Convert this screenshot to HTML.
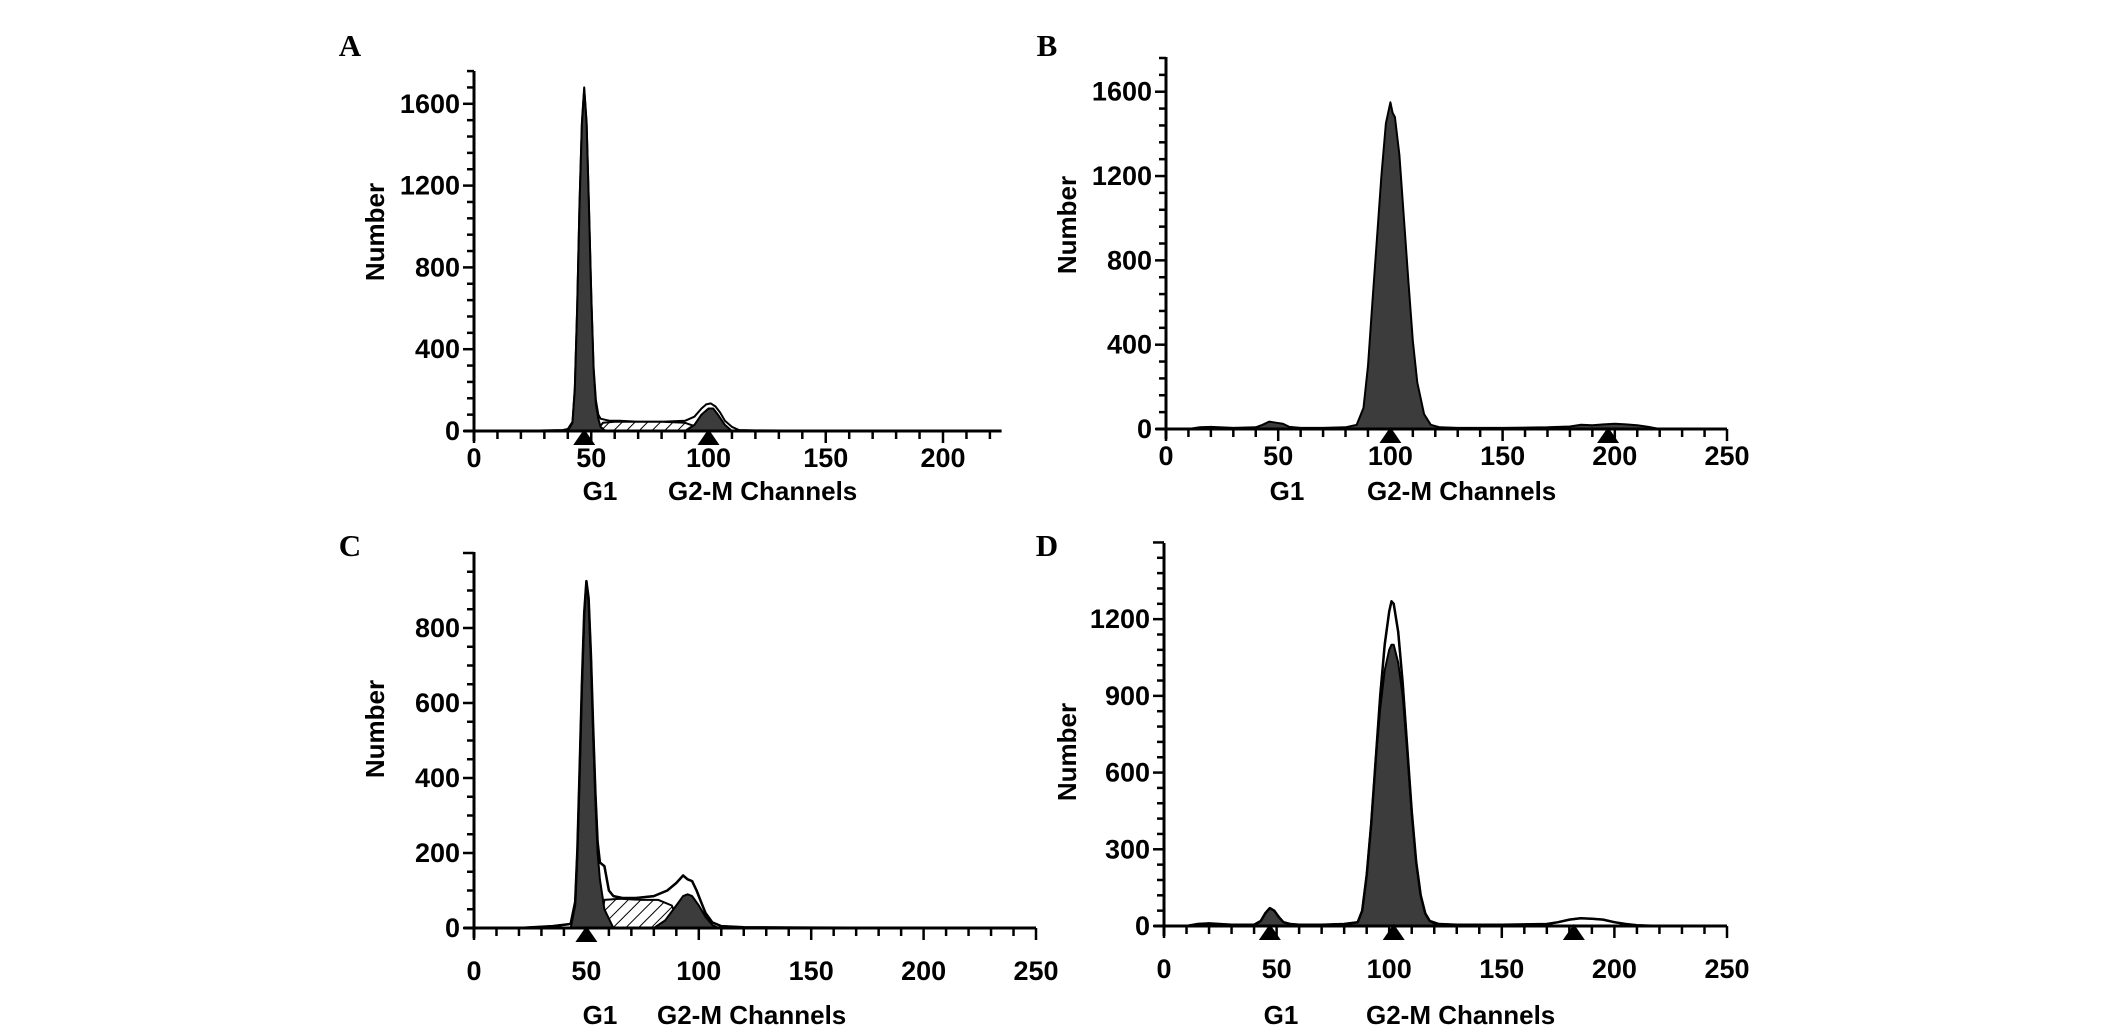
<!DOCTYPE html>
<html><head><meta charset="utf-8"><style>
html,body{margin:0;padding:0;background:#fff;}
svg{display:block;}
text{font-family:"Liberation Sans",Arial,sans-serif;font-weight:bold;fill:#000;}
.pl{font-family:"Liberation Serif","Times New Roman",serif;font-size:31px;}
</style></head><body>
<svg id="fig" width="2126" height="1032" viewBox="0 0 2126 1032" xmlns="http://www.w3.org/2000/svg">
<defs>
<pattern id="hatch" patternUnits="userSpaceOnUse" width="9" height="9" patternTransform="rotate(45)">
<rect width="9" height="9" fill="#fff"/><line x1="0" y1="0" x2="0" y2="9" stroke="#000" stroke-width="2"/>
</pattern>
</defs>
</svg>
<script>
// ---------- data ----------
const aTotalX=[20,30,38,40,42,43,44,45,46,47,48,49,50,51,52,53,54,56,58,62,70,80,90,94,97,99,101,103,105,107,110,113,120,140,160];
const aTotalY=[0,3,5,10,45,210,610,1110,1510,1680,1510,1110,660,310,150,80,60,55,50,50,45,45,50,70,110,130,135,120,90,50,20,5,3,2,0];
const aG1X=[40,42,43,44,45,46,47,48,49,50,51,52,53,54,56];
const aG1Y=[0,40,200,600,1100,1500,1670,1500,1100,650,300,130,60,20,0];
const aSX=[52,55,60,70,80,90,95,98];
const aSY=[0,40,45,45,45,40,20,0];
const aG2X=[90,94,97,100,102,104,107,110];
const aG2Y=[0,30,80,110,110,80,30,0];
const aMarks=[47,100];

const bTotalX=[10,15,20,30,40,43,46,49,52,55,60,70,80,85,88,90,92,94,96,98,100,101,102,104,106,108,110,112,115,118,122,130,150,170,180,185,190,195,200,205,210,215,220];
const bTotalY=[0,8,10,5,8,20,35,30,25,10,5,5,8,20,100,300,600,900,1200,1450,1550,1500,1480,1300,1000,700,420,220,70,20,8,5,5,8,12,20,18,22,25,22,18,10,0];
const bMarks=[100,197];

const cTotalX=[20,35,42,43,45,46,47,48,49,50,51,52,53,54,55,56,57,58,60,62,66,72,80,86,90,93,95,97,99,101,103,106,110,120,150,200];
const cTotalY=[0,5,10,12,70,210,430,650,840,925,880,730,540,360,230,175,170,165,100,85,80,80,85,100,120,140,130,125,100,70,40,15,5,2,1,0];
const cG1X=[43,45,46,47,48,49,50,51,52,53,54,55,56,58,62];
const cG1Y=[0,60,200,420,640,830,920,870,720,520,340,200,130,50,0];
const cBaseX=[45,50,55,58,62,64];
const cBaseY=[0,40,75,75,40,0];
const cSX=[56,58,65,75,82,88,92];
const cSY=[0,75,78,75,75,60,0];
const cG2X=[80,85,90,93,95,97,100,103,106,109];
const cG2Y=[0,20,60,85,90,85,60,30,8,0];
const cMarks=[50];

const dTotalX=[10,15,20,30,40,43,45,47,49,51,53,56,60,70,80,86,88,90,92,94,96,98,100,101,102,104,106,108,110,112,114,116,118,122,130,150,170,175,180,185,190,195,200,205,210,220];
const dTotalY=[0,8,10,5,5,20,50,70,60,35,15,8,5,5,8,15,60,200,400,650,900,1100,1230,1270,1260,1150,950,700,450,250,120,50,20,8,5,5,8,15,25,30,28,25,15,8,3,0];
const dFillX=[40,43,45,47,49,51,53,56,60,70,80,86,88,90,92,94,96,98,100,101,102,104,106,108,110,112,114,116,118,122];
const dFillY=[0,20,50,70,60,35,15,8,5,5,8,15,60,200,400,650,850,1000,1080,1100,1100,1030,900,680,440,250,120,50,20,0];
const dMarks=[47,102,182];

const aYTicks=["0","400","800","1200","1600"];
const bYTicks=["0","400","800","1200","1600"];
const cYTicks=["0","200","400","600","800"];
const dYTicks=["0","300","600","900","1200"];
const aXTicks=["0","50","100","150","200"];
const bXTicks=["0","50","100","150","200","250"];

// ---------- drawing ----------
const svg=document.getElementById('fig');
const NS="http://www.w3.org/2000/svg";
function mk(tag,attrs,parent){const e=document.createElementNS(NS,tag);for(const k in attrs)e.setAttribute(k,attrs[k]);(parent||svg).appendChild(e);return e;}

function panel(p){
  const g=mk('g',{});
  
  
  const sx=v=>p.x0+v*p.kx, sy=v=>p.y0-v*p.ky;
  function area(xs,ys,fill,name){
    let d='M'+sx(xs[0])+','+p.y0;
    for(let i=0;i<xs.length;i++)d+='L'+sx(xs[i]).toFixed(1)+','+sy(ys[i]).toFixed(1);
    d+='L'+sx(xs[xs.length-1])+','+p.y0+'Z';
    const e=mk('path',{d:d,fill:fill,stroke:'#000','stroke-width':2,'stroke-linejoin':'round'},g);
    
    
  }
  function line(xs,ys,name){
    let d='';
    for(let i=0;i<xs.length;i++)d+=(i?'L':'M')+sx(xs[i]).toFixed(1)+','+sy(ys[i]).toFixed(1);
    const e=mk('path',{d:d,fill:'none',stroke:'#000','stroke-width':2.5,'stroke-linejoin':'round'},g);
    
    
  }
  p.series.forEach(s=>{ if(s.type==='line') line(s.x,s.y,s.name); else area(s.x,s.y,s.fill,s.name); });
  const ya=mk('line',{x1:p.x0,y1:p.yTop,x2:p.x0,y2:p.y0+10,stroke:'#000','stroke-width':3},g);
  
  
  const xa=mk('line',{x1:p.x0-10,y1:p.y0,x2:sx(p.xMax),y2:p.y0,stroke:'#000','stroke-width':3},g);
  
  
  for(let v=0;v<=p.yMax;v+=p.yMinor){
    const major=Math.abs(v/p.yMajor-Math.round(v/p.yMajor))<1e-6;
    mk('line',{x1:p.x0-(major?11:7),y1:sy(v),x2:p.x0,y2:sy(v),stroke:'#000','stroke-width':2.5},g);
  }
  p.yTicks.forEach(t=>{
    const e=mk('text',{x:p.x0-14,y:sy(+t)+9,'text-anchor':'end','font-size':27},g);e.textContent=t;
    
    
  });
  for(let v=0;v<=p.xMax;v+=10){
    const major=v%50===0;
    mk('line',{x1:sx(v),y1:p.y0,x2:sx(v),y2:p.y0+(major?12:8),stroke:'#000','stroke-width':2.5},g);
  }
  p.xTicks.forEach(t=>{
    const e=mk('text',{x:sx(+t),y:p.y0+p.xl,'text-anchor':'middle','font-size':27},g);e.textContent=t;
    
    
  });
  p.marks.forEach(m=>{
    const e=mk('path',{d:'M'+sx(m)+','+(p.y0-2)+'l11,16h-22z',fill:'#000'},g);
    
    
  });
  const yl=mk('text',{x:p.nx,y:p.ny,'text-anchor':'middle','font-size':26,transform:'rotate(-90 '+p.nx+' '+p.ny+')',dy:9},g);
  yl.textContent='Number';
  
  
  const g1=mk('text',{x:p.g1x,y:p.ly,'text-anchor':'middle','font-size':26},g);g1.textContent='G1';
  
  
  const g2=mk('text',{x:p.g2x,y:p.ly,'font-size':26},g);g2.textContent='G2-M Channels';
  
  
  const pl=mk('text',{x:p.lx,y:p.lyy,'text-anchor':'middle',class:'pl'},g);pl.textContent=p.id;
  
  
}

const DARK='#3c3c3c';
panel({id:'A',x0:474,y0:431,kx:2.345,ky:0.2045,yTop:71,xMax:225,yMax:1760,yMinor:80,yMajor:400,xl:36,
  yTicks:aYTicks,xTicks:aXTicks,marks:aMarks,nx:375,ny:232,g1x:600,g2x:668,ly:500,lx:350,lyy:56,
  series:[{x:aTotalX,y:aTotalY,fill:'#fff',name:'total-histogram-a'},{x:aSX,y:aSY,fill:'url(#hatch)',name:'s-phase-a'},
  {x:aG1X,y:aG1Y,fill:DARK,name:'g1-peak-a'},{x:aG2X,y:aG2Y,fill:DARK,name:'g2m-peak-a'}]});
panel({id:'B',x0:1166,y0:429,kx:2.244,ky:0.2108,yTop:57,xMax:250,yMax:1760,yMinor:80,yMajor:400,xl:36,
  yTicks:bYTicks,xTicks:bXTicks,marks:bMarks,nx:1067,ny:225,g1x:1287,g2x:1367,ly:500,lx:1047,lyy:56,
  series:[{x:bTotalX,y:bTotalY,fill:DARK,name:'histogram-b'}]});
panel({id:'C',x0:474,y0:928,kx:2.248,ky:0.375,yTop:552,xMax:250,yMax:1000,yMinor:50,yMajor:200,xl:52,
  yTicks:cYTicks,xTicks:bXTicks,marks:cMarks,nx:375,ny:729,g1x:600,g2x:657,ly:1024,lx:350,lyy:556,
  series:[{x:cTotalX,y:cTotalY,fill:'#fff',name:'total-histogram-c'},{x:cBaseX,y:cBaseY,fill:DARK,name:'g1-base-c'},
  {x:cSX,y:cSY,fill:'url(#hatch)',name:'s-phase-c'},{x:cG1X,y:cG1Y,fill:DARK,name:'g1-peak-c'},{x:cG2X,y:cG2Y,fill:DARK,name:'g2m-peak-c'},
  {type:'line',x:cTotalX,y:cTotalY,name:'total-outline-c'}]});
panel({id:'D',x0:1164,y0:926,kx:2.252,ky:0.2557,yTop:543,xMax:250,yMax:1500,yMinor:60,yMajor:300,xl:52,
  yTicks:dYTicks,xTicks:bXTicks,marks:dMarks,nx:1067,ny:752,g1x:1281,g2x:1366,ly:1024,lx:1047,lyy:556,
  series:[{x:dTotalX,y:dTotalY,fill:'#fff',name:'total-histogram-d'},{x:dFillX,y:dFillY,fill:DARK,name:'fitted-peaks-d'},
  {type:'line',x:dTotalX,y:dTotalY,name:'total-outline-d'}]});
</script>
</body></html>
